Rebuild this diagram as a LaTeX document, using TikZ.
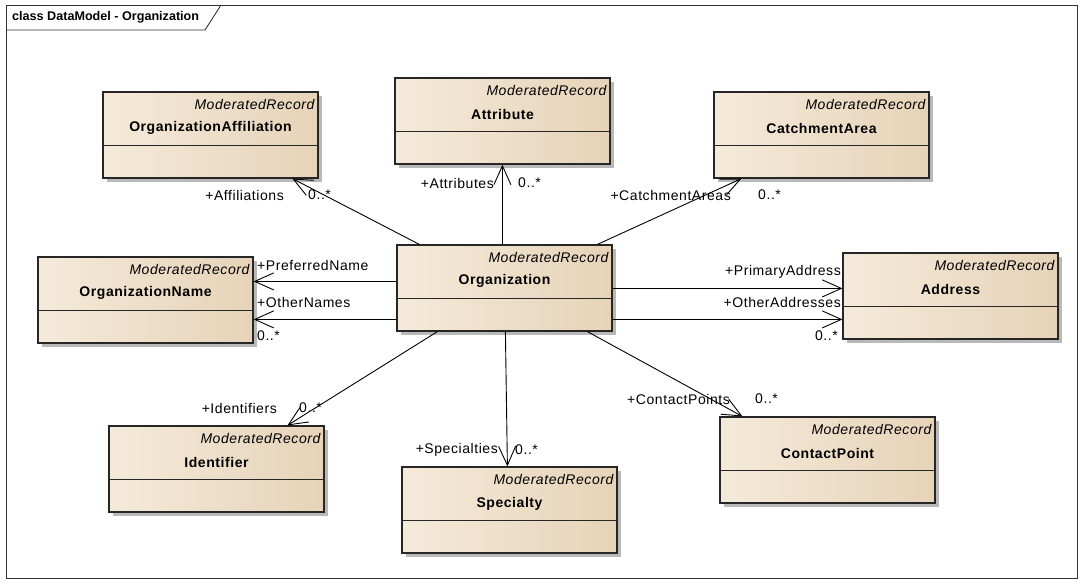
\documentclass[tikz,border=0pt]{standalone}
\usepackage{fontspec}
\setmainfont[LetterSpace=4]{Liberation Sans}
\newfontfamily\hdrfont{Liberation Sans}
\usetikzlibrary{arrows.meta,calc}
\definecolor{cL}{RGB}{245,234,218}
\definecolor{cM}{RGB}{251,243,232}
\definecolor{cR}{RGB}{230,211,184}
\definecolor{shadowc}{RGB}{185,185,185}
\newcommand\fs{\fontsize{14}{16}\selectfont}
\newcommand\umlclass[4]{%
  \fill[shadowc] (#2+4,#3+4) rectangle (#2+219,#3+90);
  \node[classbox] (#1) at (#2+107.5,#3+43) {};
  \draw[line width=1.1pt, draw=black!85] ([yshift=-54pt]#1.north west) -- ([yshift=-54pt]#1.north east);
  \node[anchor=east,font=\fs\itshape,inner sep=0pt] at ([xshift=-4pt,yshift=-13pt]#1.north east) {ModeratedRecord};
  \node[font=\fs\bfseries,inner sep=0pt] at ([yshift=-37pt]#1.north) {#4};
}
\begin{document}
\begin{tikzpicture}[x=1pt,y=-1pt,
  classbox/.style={draw=black!85, line width=1.2pt, minimum width=215pt, minimum height=86pt, inner sep=0pt,
    left color=cL, middle color=cM, right color=cR},
  assoc/.style={draw=black, line width=0.9pt, -{Straight Barb[length=19pt,width=17pt]}},
  lbl/.style={inner sep=0pt, font=\fs}]
\useasboundingbox (0,0) rectangle (1083,584);
% frame
\draw[line width=0.9pt, draw=black!80] (6,5) rectangle (1077,578);
\draw[line width=0.9pt, draw=black!80] (6,30) -- (205,30) -- (221,5);
\node[anchor=west, inner sep=0pt, font=\hdrfont\fontsize{12.6}{15}\selectfont\bfseries] (hdr) at (12,17) {class DataModel - Organization};
% classes
\umlclass{aff}{103}{92}{OrganizationAffiliation}
\umlclass{attr}{395}{78}{Attribute}
\umlclass{catch}{714}{92}{CatchmentArea}
\umlclass{oname}{38}{257}{OrganizationName}
\umlclass{org}{397}{245}{Organization}
\umlclass{addr}{843}{253}{Address}
\umlclass{ident}{109}{426}{Identifier}
\umlclass{spec}{402}{467}{Specialty}
\umlclass{cp}{720}{417}{ContactPoint}
% associations
\draw[assoc] ($(org.north west)+(23,0)$) -- ($(aff.south west)+(190,0)$);
\draw[assoc] ($(org.north west)+(106,0)$) -- ($(attr.south west)+(108,0)$);
\draw[assoc] ($(org.north west)+(201,0)$) -- ($(catch.south west)+(28,0)$);
\draw[assoc] ($(org.north west)+(0,37)$) -- ($(oname.north east)+(0,25)$);
\draw[assoc] ($(org.north west)+(0,75)$) -- ($(oname.north east)+(0,63)$);
\draw[assoc] ($(org.north east)+(0,44)$) -- ($(addr.north west)+(0,36)$);
\draw[assoc] ($(org.north east)+(0,75)$) -- ($(addr.north west)+(0,67)$);
\draw[assoc] ($(org.south west)+(41,0)$) -- ($(ident.north west)+(179,0)$);
\draw[assoc] ($(org.south west)+(109,0)$) -- ($(spec.north west)+(106,0)$);
\draw[assoc] ($(org.south west)+(191,0)$) -- ($(cp.north west)+(23,0)$);
% labels
\node[lbl, anchor=east] (l1) at (284,195) {+Affiliations};
\node[lbl, anchor=west] (m1) at (308,195) {0..*};
\node[lbl, anchor=east] (l2) at (494,183) {+Attributes};
\node[lbl, anchor=west] (m2) at (518,183) {0..*};
\node[lbl, anchor=east] (l3) at (731,195) {+CatchmentAreas};
\node[lbl, anchor=west] (m3) at (758,195) {0..*};
\node[lbl, anchor=west] (l4) at (257,265) {+PreferredName};
\node[lbl, anchor=west] (l5) at (257,302) {+OtherNames};
\node[lbl, anchor=west] (m5) at (257,336) {0..*};
\node[lbl, anchor=east] (l6) at (841,272) {+PrimaryAddress};
\node[lbl, anchor=east] (l7) at (841,302) {+OtherAddresses};
\node[lbl, anchor=east] (m7) at (838,336) {0..*};
\node[lbl, anchor=east] (l8) at (277,408) {+Identifiers};
\node[lbl, anchor=west] (m8) at (299,408) {0..*};
\node[lbl, anchor=east] (l9) at (498,450) {+Specialties};
\node[lbl, anchor=west] (m9) at (515,450) {0..*};
\node[lbl, anchor=west] (l10) at (627,399) {+ContactPoints};
\node[lbl, anchor=west] (m10) at (755,399) {0..*};
\end{tikzpicture}
\end{document}
